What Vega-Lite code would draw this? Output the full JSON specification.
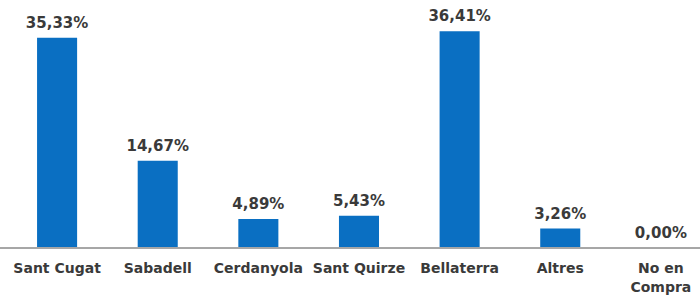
{
  "$schema": "https://vega.github.io/schema/vega-lite/v6.json",
  "width": 700,
  "height": 238,
  "autosize": {"type": "none"},
  "padding": {"left": 0, "top": 10, "right": 0, "bottom": 54},
  "background": "#ffffff",
  "config": {"view": {"stroke": null}},
  "data": {
    "values": [
      {"lloc": "Sant Cugat", "pct": 35.33, "etiqueta": "35,33%"},
      {"lloc": "Sabadell", "pct": 14.67, "etiqueta": "14,67%"},
      {"lloc": "Cerdanyola", "pct": 4.89, "etiqueta": "4,89%"},
      {"lloc": "Sant Quirze", "pct": 5.43, "etiqueta": "5,43%"},
      {"lloc": "Bellaterra", "pct": 36.41, "etiqueta": "36,41%"},
      {"lloc": "Altres", "pct": 3.26, "etiqueta": "3,26%"},
      {"lloc": "No en Compra", "pct": 0, "etiqueta": "0,00%"}
    ]
  },
  "encoding": {
    "x": {
      "field": "lloc",
      "type": "nominal",
      "sort": null,
      "scale": {"paddingInner": 0.602, "paddingOuter": 0.279, "align": 0.66},
      "axis": {
        "title": null,
        "domain": false,
        "ticks": false,
        "labelAngle": 0,
        "labelFont": "DejaVu Sans",
        "labelFontWeight": "bold",
        "labelFontSize": 14,
        "labelColor": "#3a3a3a",
        "labelPadding": 13,
        "labelLineHeight": 19,
        "labelBaseline": "top",
        "labelExpr": "datum.value == 'No en Compra' ? ['No en', 'Compra'] : datum.value"
      }
    },
    "y": {
      "field": "pct",
      "type": "quantitative",
      "scale": {"domain": [0, 40], "nice": false},
      "axis": null
    }
  },
  "layer": [
    {
      "mark": {"type": "bar", "color": "#0a6fc2"}
    },
    {
      "mark": {
        "type": "text",
        "baseline": "alphabetic",
        "dy": -10,
        "font": "DejaVu Sans",
        "fontWeight": "bold",
        "fontSize": 15,
        "color": "#3a3a3a"
      },
      "encoding": {"text": {"field": "etiqueta"}}
    },
    {
      "mark": {"type": "rule", "color": "#a6a6a6", "strokeWidth": 1},
      "encoding": {"y": {"datum": 0}, "x": null}
    }
  ]
}
